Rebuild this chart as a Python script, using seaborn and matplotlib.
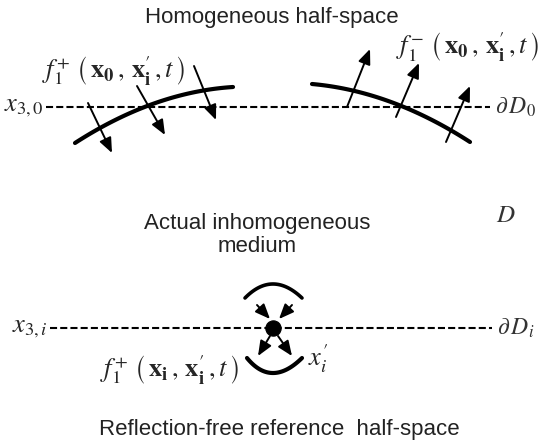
import numpy as np
import matplotlib
matplotlib.use("Agg")
import matplotlib.pyplot as plt
import seaborn as sns

# diagram geometry, in pixel units of the 539x442 picture (y grows downwards)
boundary_y = [107, 328]            # dashed planes x3,0 and x3,i
boundary_x = [[46, 490], [50, 492]]

# thick wavefront curves: start, bend (point half way), end
top_curves = [
    [(75, 143), (154, 103.5), (233, 87)],
    [(312, 84), (391, 102), (470, 142)],
]
focus_arcs = [
    [(245, 298), (273, 284), (302, 298)],
    [(247, 358), (273, 373), (302, 358)],
]
focus_point = (273, 328)

# arrows: (start, end)
down_arrows = [((88, 103), (112, 153)), ((137, 86), (165, 135)), ((194, 66), (216, 120))]
up_arrows = [((347, 107), (370, 49)), ((396, 117), (419, 63)), ((446, 142), (470, 86))]
focus_arrows = [((257, 305), (270, 319)), ((292, 305), (279, 319)),
                ((270, 336), (258, 356)), ((278, 336), (292, 356))]

sns.set_theme(style="white")
plt.rcParams["font.family"] = ["Liberation Sans", "DejaVu Sans"]
plt.rcParams["mathtext.fontset"] = "stix"

fig = plt.figure(figsize=(5.39, 4.42), dpi=100)
ax = fig.add_axes([0, 0, 1, 1])
ax.set_xlim(0, 539)
ax.set_ylim(442, 0)
ax.axis("off")


def bezier(p0, mid, p2, n=60):
    p0, mid, p2 = np.array(p0), np.array(mid), np.array(p2)
    ctrl = 2 * mid - (p0 + p2) / 2
    t = np.linspace(0, 1, n)[:, None]
    pts = (1 - t) ** 2 * p0 + 2 * (1 - t) * t * ctrl + t ** 2 * p2
    return pts[:, 0], pts[:, 1]


# dashed boundaries
for y, (xa, xb) in zip(boundary_y, boundary_x):
    sns.lineplot(x=[xa, xb], y=[y, y], ax=ax, color="black", lw=1.5,
                 linestyle=(0, (3.4, 1.5)), estimator=None, sort=False)

# thick curves
for c in top_curves:
    xs, ys = bezier(*c)
    ax.plot(xs, ys, color="black", lw=3.0, solid_capstyle="round")
for i, c in enumerate(focus_arcs):
    xs, ys = bezier(*c)
    ax.plot(xs, ys, color="black", lw=2.6 if i == 0 else 3.0, solid_capstyle="round")

# arrows
aprops = dict(arrowstyle="-|>,head_length=0.6,head_width=0.25", color="black",
              lw=1.4, shrinkA=0, shrinkB=0, mutation_scale=15)
for s, e in down_arrows + up_arrows + focus_arrows:
    ax.annotate("", xy=e, xytext=s, arrowprops=aprops)

sns.scatterplot(x=[focus_point[0]], y=[focus_point[1]], ax=ax, s=120,
                color="black", edgecolor="black", zorder=5)

# text
ax.text(272, 18, "Homogeneous half-space", ha="center", va="center", fontsize=16, color="#222222")
ax.text(257, 235, "Actual inhomogeneous\nmedium", ha="center", va="center", fontsize=16,
        color="#222222", linespacing=1.1)
ax.text(279, 429, "Reflection-free reference  half-space", ha="center", va="center",
        fontsize=16, color="#222222")

ax.text(42, 70, r"$f_1^{+}\ \left(\,\mathbf{x_0}\,,\,\mathbf{x}_\mathbf{i}^{\prime}\,,t\,\right)$",
        ha="left", va="center", fontsize=19)
ax.text(396, 46, r"$f_1^{-}\ \left(\,\mathbf{x_0}\,,\,\mathbf{x}_\mathbf{i}^{\prime}\,,t\,\right)$",
        ha="left", va="center", fontsize=19)
ax.text(100, 369, r"$f_1^{+}\ \left(\,\mathbf{x_i}\,,\,\mathbf{x}_\mathbf{i}^{\prime}\,,t\,\right)$",
        ha="left", va="center", fontsize=19)
ax.text(308, 359, r"$x_i^{\prime}$", ha="left", va="center", fontsize=19)

ax.text(44, 107, r"$x_{3,0}$", ha="right", va="center", fontsize=19)
ax.text(48, 328, r"$x_{3,i}$", ha="right", va="center", fontsize=19)
ax.text(495, 107, r"$\partial\,D_0$", ha="left", va="center", fontsize=17, color="#333333")
ax.text(497, 328, r"$\partial\,D_i$", ha="left", va="center", fontsize=17, color="#333333")
ax.text(506, 215, r"$D$", ha="center", va="center", fontsize=18, color="#333333")

fig.savefig("out.png", dpi=100, facecolor="white")
